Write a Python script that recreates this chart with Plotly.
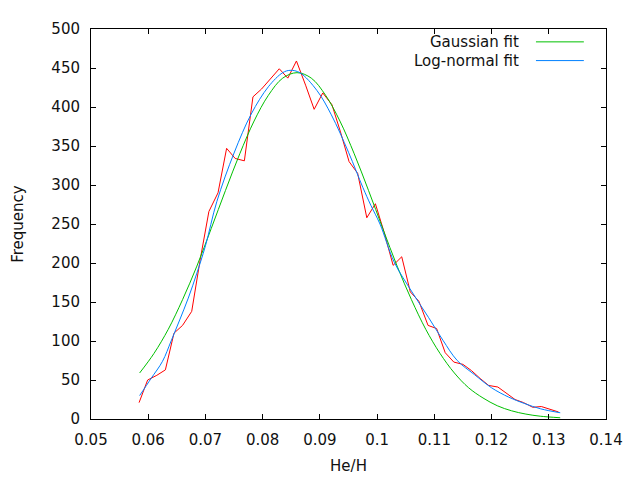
import plotly.graph_objects as go

# Messwerte He/H (Histogramm als Linie)
he_h = [0.0584, 0.0599, 0.0615, 0.0630, 0.0645, 0.0660, 0.0676, 0.0691, 0.0706, 0.0722,
        0.0737, 0.0752, 0.0768, 0.0783, 0.0798, 0.0814, 0.0829, 0.0844, 0.0859, 0.0875,
        0.0890, 0.0905, 0.0921, 0.0936, 0.0951, 0.0966, 0.0982, 0.0997, 0.1012, 0.1028,
        0.1043, 0.1058, 0.1073, 0.1089, 0.1104, 0.1119, 0.1134, 0.1150, 0.1165, 0.1180,
        0.1195, 0.1211, 0.1226, 0.1241, 0.1256, 0.1272, 0.1287, 0.1302, 0.1317]
freq = [21, 50, 56, 63, 110, 120, 138, 205, 266, 290,
        347, 334, 331, 413, 423, 437, 449, 437, 459, 428,
        397, 418, 403, 368, 330, 315, 258, 276, 240, 197,
        208, 163, 151, 120, 116, 85, 73, 70, 62, 52,
        43, 41, 33, 25, 21, 15, 16, 13, 9]

# Gauss-Fit
gauss_x = [0.0585, 0.061, 0.0635, 0.066, 0.0685, 0.071, 0.0735, 0.076, 0.0785, 0.081,
           0.0835, 0.086, 0.0885, 0.091, 0.0935, 0.096, 0.0985, 0.101, 0.1035, 0.106,
           0.1085, 0.111, 0.1135, 0.116, 0.1185, 0.121, 0.1235, 0.126, 0.1285, 0.132]
gauss_y = [59, 84, 115, 153, 196, 244, 293, 340, 382, 415,
           437, 444, 437, 415, 382, 340, 293, 244, 196, 153,
           115, 84, 59, 40, 27, 17, 10.5, 6.3, 3.6, 1.6]

# Log-Normal-Fit
logn_x = [0.0585, 0.0605, 0.0625, 0.064, 0.0655, 0.067, 0.0685, 0.070, 0.072, 0.075,
          0.078, 0.081, 0.0835, 0.0848, 0.0865, 0.0895, 0.092, 0.095, 0.0975, 0.0989,
          0.1005, 0.103, 0.106, 0.109, 0.1115, 0.114, 0.117, 0.120, 0.123, 0.1257,
          0.1286, 0.132]
logn_y = [30, 52, 74, 100, 127, 155, 187, 222, 279, 341,
          391, 426, 444, 447, 444, 421, 390, 342, 297, 274,
          250, 201, 164, 130, 101, 75, 57, 40, 28, 20,
          13, 8]

x_ticks = [0.05, 0.06, 0.07, 0.08, 0.09, 0.10, 0.11, 0.12, 0.13, 0.14]
x_labels = ["0.05", "0.06", "0.07", "0.08", "0.09", "0.1", "0.11", "0.12", "0.13", "0.14"]
y_ticks = [0, 50, 100, 150, 200, 250, 300, 350, 400, 450, 500]

legend_names = ["Gaussian fit", "Log-normal fit"]
legend_colors = ["#00c000", "#0080ff"]

fig = go.Figure()
fig.add_trace(go.Scatter(x=he_h, y=freq, mode="lines",
                         line=dict(color="#ff0000", width=1), showlegend=False))
fig.add_trace(go.Scatter(x=gauss_x, y=gauss_y, mode="lines", line_shape="spline",
                         line=dict(color="#00c000", width=1), showlegend=False))
fig.add_trace(go.Scatter(x=logn_x, y=logn_y, mode="lines", line_shape="spline",
                         line=dict(color="#0080ff", width=1), showlegend=False))

fnt = dict(family="DejaVu Sans", size=15, color="#111111")

# Legende im gnuplot-Stil: Text rechtsbuendig, Linie dahinter
for i, (name, col) in enumerate(zip(legend_names, legend_colors)):
    yy = 0.967 - i * 0.048
    fig.add_annotation(x=0.835, y=yy, xref="paper", yref="paper", text=name,
                       showarrow=False, xanchor="right", yanchor="middle", font=fnt)
    fig.add_shape(type="line", xref="paper", yref="paper", x0=0.864, x1=0.957,
                  y0=yy, y1=yy, line=dict(color=col, width=1))

# y-Achsentitel als Annotation, damit er weiter links sitzen kann
fig.add_annotation(x=-0.142, y=0.5, xref="paper", yref="paper", text="Frequency",
                   textangle=-90, showarrow=False, xanchor="center", yanchor="middle",
                   font=fnt)

axis_common = dict(showgrid=False, zeroline=False, showline=True, linecolor="black",
                   linewidth=1, mirror="allticks", ticks="inside", ticklen=5,
                   tickcolor="black", tickfont=fnt)

fig.update_xaxes(range=[0.05, 0.14], tickvals=x_ticks, ticktext=x_labels,
                 ticklabelstandoff=7,
                 title=dict(text="He/H", font=fnt, standoff=12), **axis_common)
fig.update_yaxes(range=[0, 500], tickvals=y_ticks, ticklabelstandoff=7, **axis_common)

# Seite hat 8px Rand, daher Raender entsprechend verkleinert
fig.update_layout(width=640, height=480, plot_bgcolor="white", paper_bgcolor="white",
                  margin=dict(l=83, r=42, t=14, b=69))

fig.write_html("out.html")
